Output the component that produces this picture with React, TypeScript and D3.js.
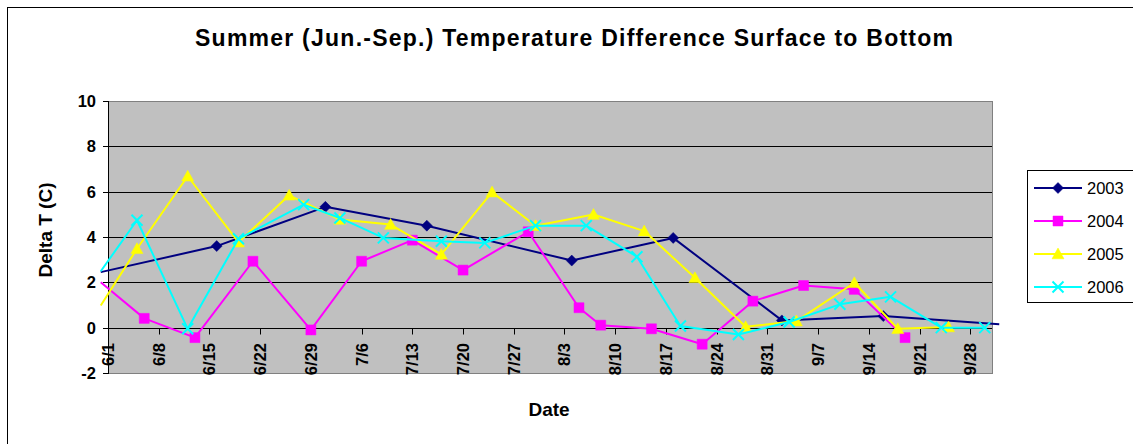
import React from "react";
import * as d3 from "d3";

// ---------- data ----------
const seriesNames = ["2003", "2004", "2005", "2006"];

const dates2003 = ["5/31", "6/16", "7/1", "7/15", "8/4", "8/18", "9/2", "9/16", "10/2"];
const values2003 = [2.45, 3.6, 5.33, 4.5, 2.96, 3.96, 0.32, 0.51, 0.15];

const dates2004 = ["5/31", "6/6", "6/13", "6/21", "6/29", "7/6", "7/13", "7/20", "7/29", "8/5", "8/8", "8/15", "8/22", "8/29", "9/5", "9/12", "9/19"];
const values2004 = [2.0, 0.41, -0.44, 2.93, -0.1, 2.93, 3.86, 2.54, 4.23, 0.88, 0.11, -0.05, -0.73, 1.17, 1.86, 1.69, -0.44];

const dates2005 = ["5/31", "6/5", "6/12", "6/19", "6/26", "7/3", "7/10", "7/17", "7/24", "7/30", "8/7", "8/14", "8/21", "8/28", "9/4", "9/12", "9/18", "9/25"];
const values2005 = [0.98, 3.48, 6.68, 3.77, 5.84, 4.77, 4.55, 3.23, 5.98, 4.5, 4.99, 4.26, 2.2, 0.04, 0.29, 1.98, -0.05, 0.03];

const dates2006 = ["5/31", "6/5", "6/12", "6/19", "6/28", "7/3", "7/9", "7/17", "7/23", "7/30", "8/6", "8/13", "8/19", "8/27", "9/3", "9/10", "9/17", "9/24", "9/30"];
const values2006 = [2.49, 4.74, -0.05, 3.92, 5.43, 4.84, 3.96, 3.81, 3.74, 4.5, 4.5, 3.13, 0.07, -0.3, 0.25, 1.03, 1.36, 0, 0];

const yTicks = [-2, 0, 2, 4, 6, 8, 10];
const yGrid = [2, 4, 6, 8];
const xTickLabels = ["6/1", "6/8", "6/15", "6/22", "6/29", "7/6", "7/13", "7/20", "7/27", "8/3", "8/10", "8/17", "8/24", "8/31", "9/7", "9/14", "9/21", "9/28"];
const xDomain = ["6/1", "10/1"];

const titleText = "Summer (Jun.-Sep.) Temperature Difference Surface to Bottom";
const xTitle = "Date";
const yTitle = "Delta T (C)";

// ---------- styles ----------
const FONT = "Arial, 'Liberation Sans', Helvetica, sans-serif";
const colors = ["#000080", "#FF00FF", "#FFFF00", "#00FFFF"];

const parse = (s: string) => d3.timeParse("%Y/%m/%d")("2000/" + s) as Date;

const symDiamond = {
  draw(ctx: any, size: number) {
    const r = Math.sqrt(size) / 2;
    ctx.moveTo(0, -r);
    ctx.lineTo(r, 0);
    ctx.lineTo(0, r);
    ctx.lineTo(-r, 0);
    ctx.closePath();
  },
};
const symSquare = {
  draw(ctx: any, size: number) {
    const r = Math.sqrt(size) / 2;
    ctx.rect(-r, -r, 2 * r, 2 * r);
  },
};
const symTriangle = {
  draw(ctx: any, size: number) {
    const r = Math.sqrt(size) / 2;
    ctx.moveTo(0, -r);
    ctx.lineTo(r, r * 0.8);
    ctx.lineTo(-r, r * 0.8);
    ctx.closePath();
  },
};
const symX = {
  draw(ctx: any, size: number) {
    const r = Math.sqrt(size) / 2;
    ctx.moveTo(-r, -r);
    ctx.lineTo(r, r);
    ctx.moveTo(r, -r);
    ctx.lineTo(-r, r);
  },
};

const symbolTypes = [symDiamond, symSquare, symTriangle, symX];
const symbolSizes = [121, 100, 144, 121];
const symbolFilled = [true, true, true, false];

export default function App() {
  const W = 1133;
  const H = 444;
  const L = 108, R = 992, T = 101, B = 373;

  const x = d3.scaleTime().domain(xDomain.map(parse)).range([L, R]);
  const y = d3.scaleLinear().domain([-2, 10]).range([B, T]);

  const series = [
    { name: seriesNames[0], dates: dates2003, values: values2003 },
    { name: seriesNames[1], dates: dates2004, values: values2004 },
    { name: seriesNames[2], dates: dates2005, values: values2005 },
    { name: seriesNames[3], dates: dates2006, values: values2006 },
  ].map((s) => ({
    name: s.name,
    pts: s.dates.map((d, i) => ({ date: parse(d), v: s.values[i] })),
  }));

  const line = d3
    .line<{ date: Date; v: number }>()
    .x((d) => x(d.date))
    .y((d) => y(d.v));

  const [d0, d1] = x.domain();
  const inDomain = (d: Date) => d >= d0 && d <= d1;
  const y0 = Math.round(y(0)) + 0.5;

  const legendX = 1027.5;
  const legendY = 170.5;
  const legendRow = 33;

  return (
    <svg
      width={W}
      height={H}
      style={{ position: "absolute", left: 0, top: 0, display: "block", background: "#fff" }}
      fontFamily={FONT}
    >
      {/* chart border */}
      <rect x={7.5} y={7.5} width={1300} height={600} fill="#fff" stroke="#000" strokeWidth={1} />

      {/* title */}
      <text
        x={574}
        y={46}
        textAnchor="middle"
        fontSize={23}
        fontWeight="bold"
        textLength={758}
        lengthAdjust="spacing"
        fill="#000"
      >
        {titleText}
      </text>

      {/* plot area */}
      <rect x={L + 0.5} y={T + 0.5} width={R - L} height={B - T} fill="#C0C0C0" stroke="#808080" strokeWidth={1} />

      {/* gridlines */}
      {yGrid.map((v) => (
        <line key={v} x1={L} x2={R} y1={Math.round(y(v)) + 0.5} y2={Math.round(y(v)) + 0.5} stroke="#000" strokeWidth={1} />
      ))}

      {/* y axis */}
      <line x1={L + 0.5} x2={L + 0.5} y1={T} y2={B + 1} stroke="#000" strokeWidth={1} />
      {yTicks.map((v) => {
        const yy = Math.round(y(v)) + 0.5;
        return (
          <g key={v}>
            <line x1={L - 5} x2={L} y1={yy} y2={yy} stroke="#000" strokeWidth={1} />
            <text x={96} y={yy} dy="0.36em" textAnchor="end" fontSize={16.5} fontWeight="bold" fill="#000">
              {v}
            </text>
          </g>
        );
      })}

      {/* x axis at 0 */}
      <line x1={L} x2={R} y1={y0} y2={y0} stroke="#000" strokeWidth={1} />
      {xTickLabels.map((lab) => {
        const xx = Math.round(x(parse(lab))) + 0.5;
        return (
          <g key={lab}>
            <line x1={xx} x2={xx} y1={y0} y2={y0 + 6} stroke="#000" strokeWidth={1} />
            <text
              transform={`translate(${xx},343) rotate(-90)`}
              dy="0.36em"
              textAnchor="end"
              fontSize={16.5}
              fontWeight="bold"
              fill="#000"
            >
              {lab}
            </text>
          </g>
        );
      })}

      {/* axis titles */}
      <text x={549} y={416} textAnchor="middle" fontSize={19} fontWeight="bold" fill="#000">
        {xTitle}
      </text>
      <text transform="translate(52,230) rotate(-90)" textAnchor="middle" fontSize={19} fontWeight="bold" fill="#000">
        {yTitle}
      </text>

      {/* series */}
      {series.map((s, i) => {
        const sym = d3.symbol().type(symbolTypes[i] as any).size(symbolSizes[i]);
        return (
          <g key={s.name}>
            <path d={line(s.pts) || ""} fill="none" stroke={colors[i]} strokeWidth={2} strokeLinejoin="round" />
            {s.pts
              .filter((p) => inDomain(p.date))
              .map((p, j) => (
                <path
                  key={j}
                  transform={`translate(${x(p.date)},${y(p.v)})`}
                  d={sym() || ""}
                  fill={symbolFilled[i] ? colors[i] : "none"}
                  stroke={colors[i]}
                  strokeWidth={symbolFilled[i] ? 0.5 : 2}
                />
              ))}
          </g>
        );
      })}

      {/* legend */}
      <rect x={legendX} y={legendY} width={200} height={132} fill="#fff" stroke="#000" strokeWidth={1} />
      {series.map((s, i) => {
        const cy = 188 + i * legendRow;
        const sym = d3.symbol().type(symbolTypes[i] as any).size(symbolSizes[i]);
        return (
          <g key={s.name}>
            <line x1={1034} x2={1082} y1={cy} y2={cy} stroke={colors[i]} strokeWidth={2} />
            <path
              transform={`translate(1058,${cy})`}
              d={sym() || ""}
              fill={symbolFilled[i] ? colors[i] : "none"}
              stroke={colors[i]}
              strokeWidth={symbolFilled[i] ? 0.5 : 2}
            />
            <text x={1087} y={cy} dy="0.36em" fontSize={16.5} fill="#000">
              {s.name}
            </text>
          </g>
        );
      })}
    </svg>
  );
}
